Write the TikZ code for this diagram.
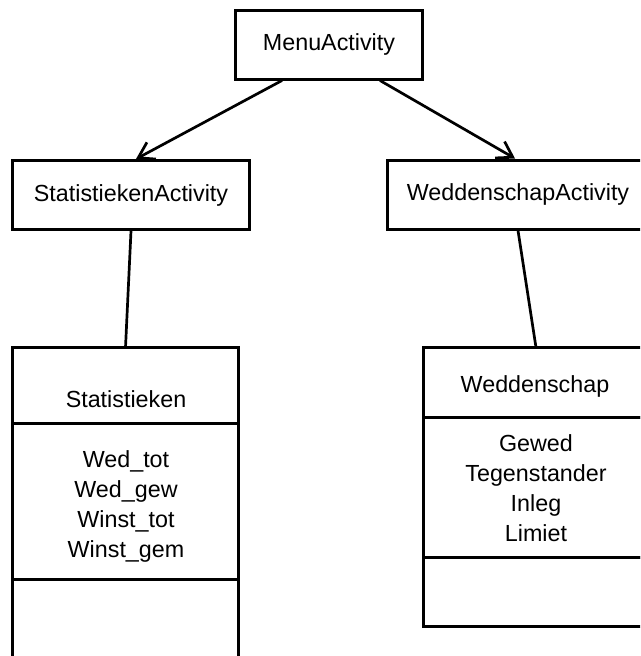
\documentclass[tikz,border=0pt]{standalone}
\usepackage{fontspec}
\setmainfont{Liberation Sans}
\usetikzlibrary{arrows.meta}

\begin{document}
\begin{tikzpicture}[x=1pt, y=-1pt,
  box/.style={draw, line width=3pt, inner sep=0pt},
  part/.style={draw, line width=3pt, inner sep=0pt, outer sep=0pt, anchor=north west},
  txt/.style={font=\fontsize{23.3}{30}\selectfont, inner sep=0pt},
  conn/.style={line width=2.7pt}]
\clip (0,0) rectangle (640,656);

\node[box, txt, minimum width=187pt, minimum height=69pt] at (329,44.5) (menu) {MenuActivity};
\node[box, txt, minimum width=237pt, minimum height=69pt] at (131,195) (statact) {StatistiekenActivity};
\node[box, txt, minimum width=262pt, minimum height=69pt] at (518,194.5) (wedact) {WeddenschapActivity};

% class Statistieken
\node[part, minimum width=226pt, minimum height=75.5pt] at (12.5,347.5) (stitle) {};
\node[part, minimum width=226pt, minimum height=156pt] at (stitle.south west) (sattr) {};
\node[part, minimum width=226pt, minimum height=141pt] at (sattr.south west) (smeth) {};
\node[txt, anchor=base] at (126,407) (sname) {Statistieken};
\node[txt, align=center, anchor=base] at (126,557) (sfields) {Wed\_tot\\Wed\_gew\\Winst\_tot\\Winst\_gem};

% class Weddenschap
\node[part, minimum width=225pt, minimum height=69.5pt] at (423.5,347.5) (wtitle) {};
\node[part, minimum width=225pt, minimum height=140pt] at (wtitle.south west) (wattr) {};
\node[part, minimum width=225pt, minimum height=69pt] at (wattr.south west) (wmeth) {};
\node[txt, anchor=base] at (535,392) (wname) {Weddenschap};
\node[txt, align=center, anchor=base] at (536,541) (wfields) {Gewed\\Tegenstander\\Inleg\\Limiet};

\draw[conn, -{Straight Barb[length=15pt,width=19pt]}] ([xshift=-47pt]menu.south) -- ([xshift=5pt]statact.north);
\draw[conn, -{Straight Barb[length=15pt,width=19pt]}] ([xshift=51pt]menu.south) -- ([xshift=-3pt]wedact.north);
\draw[conn] (statact.south) -- (stitle.north);
\draw[conn] (wedact.south) -- (wtitle.north);

\end{tikzpicture}
\end{document}
